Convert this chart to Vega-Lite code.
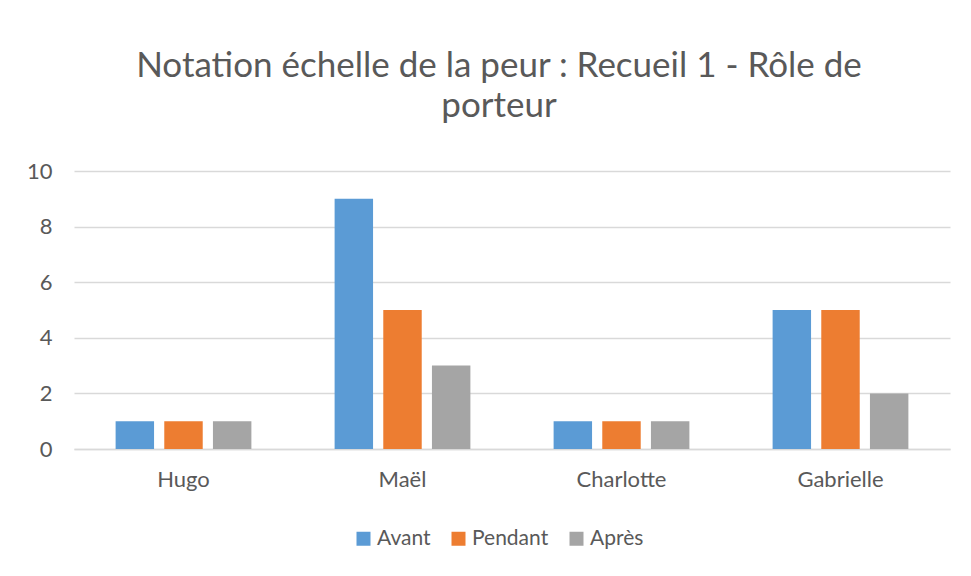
{
  "$schema": "https://vega.github.io/schema/vega-lite/v6.json",
  "width": 876,
  "height": 278,
  "autosize": {"type": "none"},
  "padding": {"left": 74, "top": 171, "right": 21, "bottom": 127},
  "background": "white",
  "config": {
    "font": "Lato",
    "view": {"stroke": null}
  },
  "title": {
    "text": ["Notation échelle de la peur : Recueil 1 - Rôle de", "porteur"],
    "font": "Lato",
    "fontSize": 35,
    "fontWeight": "normal",
    "color": "#595959",
    "lineHeight": 40,
    "anchor": "middle",
    "dx": -13,
    "offset": 36
  },
  "data": {
    "values": [
      {"personne": "Hugo", "moment": "Avant", "note": 1},
      {"personne": "Hugo", "moment": "Pendant", "note": 1},
      {"personne": "Hugo", "moment": "Après", "note": 1},
      {"personne": "Maël", "moment": "Avant", "note": 9},
      {"personne": "Maël", "moment": "Pendant", "note": 5},
      {"personne": "Maël", "moment": "Après", "note": 3},
      {"personne": "Charlotte", "moment": "Avant", "note": 1},
      {"personne": "Charlotte", "moment": "Pendant", "note": 1},
      {"personne": "Charlotte", "moment": "Après", "note": 1},
      {"personne": "Gabrielle", "moment": "Avant", "note": 5},
      {"personne": "Gabrielle", "moment": "Pendant", "note": 5},
      {"personne": "Gabrielle", "moment": "Après", "note": 2}
    ]
  },
  "mark": {"type": "bar"},
  "encoding": {
    "x": {
      "field": "personne",
      "type": "nominal",
      "sort": ["Hugo", "Maël", "Charlotte", "Gabrielle"],
      "scale": {"paddingInner": 0.38, "paddingOuter": 0.19},
      "axis": {
        "title": null,
        "labelAngle": 0,
        "ticks": false,
        "domainColor": "#D9D9D9",
        "domainWidth": 1.5,
        "labelPadding": 20,
        "labelFont": "Lato",
        "labelFontSize": 22,
        "labelColor": "#595959"
      }
    },
    "xOffset": {
      "field": "moment",
      "type": "nominal",
      "sort": ["Avant", "Pendant", "Après"],
      "scale": {"paddingInner": 0.21, "paddingOuter": 0}
    },
    "y": {
      "field": "note",
      "type": "quantitative",
      "scale": {"domain": [0, 10], "nice": false},
      "axis": {
        "title": null,
        "values": [0, 2, 4, 6, 8, 10],
        "ticks": false,
        "domain": false,
        "gridColor": "#D9D9D9",
        "gridWidth": 1.5,
        "labelPadding": 22,
        "labelFont": "Lato",
        "labelFontSize": 22,
        "labelColor": "#595959"
      }
    },
    "color": {
      "field": "moment",
      "type": "nominal",
      "sort": ["Avant", "Pendant", "Après"],
      "scale": {"domain": ["Avant", "Pendant", "Après"], "range": ["#5B9BD5", "#ED7D31", "#A5A5A5"]},
      "legend": {
        "title": null,
        "orient": "none",
        "direction": "horizontal",
        "legendX": 279,
        "legendY": 357,
        "symbolType": "square",
        "symbolSize": 196,
        "symbolStrokeWidth": 0,
        "symbolOpacity": 1,
        "labelFont": "Lato",
        "labelFontSize": 21,
        "labelColor": "#595959",
        "labelOffset": 3,
        "columnPadding": 17
      }
    }
  }
}
